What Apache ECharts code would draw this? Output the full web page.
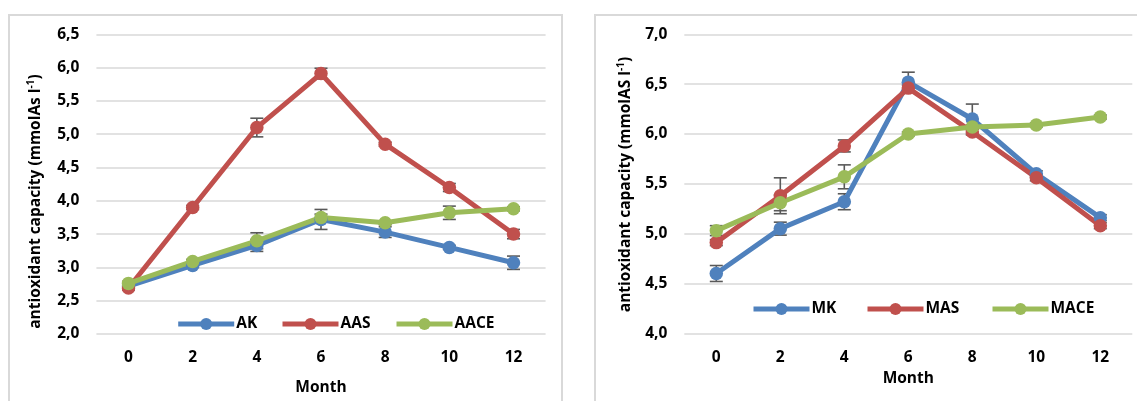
<!DOCTYPE html>
<html>
<head>
<meta charset="utf-8">
<script src="https://cdn.jsdelivr.net/npm/echarts@6/dist/echarts.min.js"></script>
<style>
html,body{margin:0;padding:0;background:#fff;}
#c{width:1137px;height:401px;}
</style>
</head>
<body>
<div id="c"></div>
<script>
// ---- data ----
const months = ['0', '2', '4', '6', '8', '10', '12'];

const leftTicks = ['2,0', '2,5', '3,0', '3,5', '4,0', '4,5', '5,0', '5,5', '6,0', '6,5'];
const rightTicks = ['4,0', '4,5', '5,0', '5,5', '6,0', '6,5', '7,0'];

const AK = [2.72, 3.03, 3.33, 3.72, 3.53, 3.30, 3.07];
const AAS = [2.69, 3.90, 5.10, 5.91, 4.85, 4.20, 3.50];
const AACE = [2.76, 3.09, 3.40, 3.75, 3.67, 3.82, 3.88];
const AK_err = [0.03, 0.03, 0.09, 0.15, 0.08, 0.03, 0.10];
const AAS_err = [0.03, 0.03, 0.14, 0.08, 0.03, 0.06, 0.07];
const AACE_err = [0.03, 0.03, 0.12, 0.05, 0.03, 0.10, 0.03];

const MK = [4.60, 5.05, 5.32, 6.52, 6.15, 5.60, 5.16];
const MAS = [4.91, 5.38, 5.88, 6.46, 6.02, 5.56, 5.08];
const MACE = [5.03, 5.31, 5.57, 6.00, 6.07, 6.09, 6.17];
const MK_err = [0.08, 0.065, 0.08, 0.10, 0.15, 0.03, 0.03];
const MAS_err = [0.03, 0.18, 0.06, 0.03, 0.03, 0.03, 0.03];
const MACE_err = [0.05, 0.08, 0.12, 0.02, 0.02, 0.02, 0.02];

// ---- styling ----
const FONT = '"Open Sans", "Noto Sans", sans-serif';
const FW = 700;
const FS = 15.5;
const BLUE = '#4F81BD', RED = '#C0504D', GREEN = '#9BBB59';
const GRID_C = '#d9d9d9';

function errData(vals, errs) {
  return vals.map((v, i) => [i, v - errs[i], v + errs[i]]);
}
function renderErr(params, api) {
  const x = api.value(0);
  const lo = api.coord([x, api.value(1)]);
  const hi = api.coord([x, api.value(2)]);
  const w = 6.5;
  const st = { stroke: '#595959', lineWidth: 1.6, fill: null };
  return {
    type: 'group',
    children: [
      { type: 'line', shape: { x1: lo[0], y1: lo[1], x2: hi[0], y2: hi[1] }, style: st },
      { type: 'line', shape: { x1: lo[0] - w, y1: lo[1], x2: lo[0] + w, y2: lo[1] }, style: st },
      { type: 'line', shape: { x1: hi[0] - w, y1: hi[1], x2: hi[0] + w, y2: hi[1] }, style: st }
    ]
  };
}
function errSeries(vals, errs, idx) {
  return {
    type: 'custom', xAxisIndex: idx, yAxisIndex: idx, z: 1,
    renderItem: renderErr, data: errData(vals, errs), silent: true
  };
}
function lineSeries(name, vals, color, idx) {
  return {
    name: name, type: 'line', xAxisIndex: idx, yAxisIndex: idx, z: 3,
    data: vals, symbol: 'circle', symbolSize: 13.5,
    lineStyle: { width: 5, color: color },
    itemStyle: { color: color },
    emphasis: { disabled: true }
  };
}
const txt = { color: '#000', fontFamily: FONT, fontWeight: FW, fontSize: FS };
function xAxis(idx, gap) {
  return {
    type: 'category', gridIndex: idx, data: months, boundaryGap: true,
    axisLine: { show: false }, axisTick: { show: false },
    axisLabel: Object.assign({ margin: 16 }, txt),
    name: 'Month', nameLocation: 'middle', nameGap: gap,
    nameTextStyle: Object.assign({}, txt)
  };
}
function yAxis(idx, min, max, ticks) {
  return {
    type: 'value', gridIndex: idx, min: min, max: max, interval: 0.5,
    axisLine: { show: false }, axisTick: { show: false },
    splitLine: { lineStyle: { color: GRID_C, width: 1.6 } },
    axisLabel: Object.assign({
      margin: 17,
      formatter: v => ticks[Math.round((v - min) / 0.5)]
    }, txt)
  };
}
function legend(name, left, top) {
  return {
    data: [name], left: left, top: top, orient: 'horizontal',
    itemWidth: 56, itemHeight: 15, itemGap: 0,
    lineStyle: { width: 5 },
    textStyle: Object.assign({ padding: [0, 0, 0, -3] }, txt)
  };
}
function yTitle(x, y, unit) {
  return {
    type: 'text', x: x, y: y, rotation: Math.PI / 2, silent: true,
    style: {
      text: '{a|antioxidant capacity (' + unit + ' l}{s|-1}{a|)}',
      align: 'center', verticalAlign: 'middle',
      rich: {
        a: { fontFamily: FONT, fontWeight: FW, fontSize: 15.5, fill: '#000', lineHeight: 19 },
        s: { fontFamily: FONT, fontWeight: FW, fontSize: 10, fill: '#000', lineHeight: 19, verticalAlign: 'top' }
      }
    }
  };
}

const chart = echarts.init(document.getElementById('c'), null, { renderer: 'canvas' });
chart.setOption({
  animation: false,
  backgroundColor: '#fff',
  grid: [
    { left: 96.4, right: 1137 - 545.6, top: 34.3, bottom: 401 - 335.7 },
    { left: 684.3, right: 1137 - 1132.3, top: 34.3, bottom: 401 - 333.3 }
  ],
  xAxis: [xAxis(0, 46), xAxis(1, 37)],
  yAxis: [yAxis(0, 2, 6.5, leftTicks), yAxis(1, 4, 7, rightTicks)],
  legend: [
    legend('AK', 170.7, 311),
    legend('AAS', 275, 311),
    legend('AACE', 389, 311),
    legend('MK', 746, 296),
    legend('MAS', 860, 296),
    legend('MACE', 985, 296)
  ],
  graphic: [
    { type: 'rect', shape: { x: 9, y: 15, width: 553, height: 420 }, style: { fill: null, stroke: GRID_C, lineWidth: 2 }, silent: true },
    { type: 'rect', shape: { x: 595, y: 15, width: 580, height: 420 }, style: { fill: null, stroke: GRID_C, lineWidth: 2 }, silent: true },
    yTitle(35.7, 201.5, 'mmolAs'),
    yTitle(625.2, 184.5, 'mmolAS')
  ],
  series: [
    errSeries(AK, AK_err, 0),
    errSeries(AAS, AAS_err, 0),
    errSeries(AACE, AACE_err, 0),
    lineSeries('AK', AK, BLUE, 0),
    lineSeries('AAS', AAS, RED, 0),
    lineSeries('AACE', AACE, GREEN, 0),
    errSeries(MK, MK_err, 1),
    errSeries(MAS, MAS_err, 1),
    errSeries(MACE, MACE_err, 1),
    lineSeries('MK', MK, BLUE, 1),
    lineSeries('MAS', MAS, RED, 1),
    lineSeries('MACE', MACE, GREEN, 1)
  ]
});
</script>
</body>
</html>
